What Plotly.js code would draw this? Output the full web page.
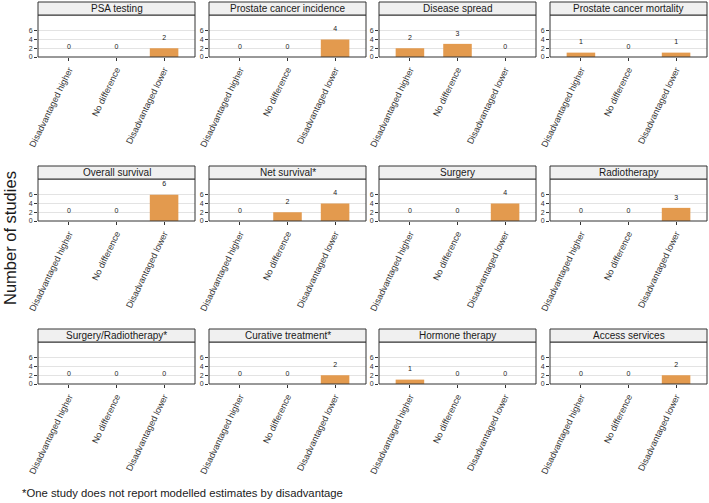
<!DOCTYPE html>
<html>
<head>
<meta charset="utf-8">
<script src="https://cdn.plot.ly/plotly-3.0.1.min.js"></script>
<style>html,body{margin:0;padding:0;background:#fff;}#chart{width:709px;height:503px;}</style>
</head>
<body>
<div id="chart"></div>
<script>
const categories = ["Disadvantaged higher", "No difference", "Disadvantaged lower"];
const panelTitles = [
  "PSA testing", "Prostate cancer incidence", "Disease spread", "Prostate cancer mortality",
  "Overall survival", "Net survival*", "Surgery", "Radiotherapy",
  "Surgery/Radiotherapy*", "Curative treatment*", "Hormone therapy", "Access services"
];
const psaTesting = [0, 0, 2];
const incidence = [0, 0, 4];
const diseaseSpread = [2, 3, 0];
const mortality = [1, 0, 1];
const overallSurvival = [0, 0, 6];
const netSurvival = [0, 2, 4];
const surgery = [0, 0, 4];
const radiotherapy = [0, 0, 3];
const surgeryRadiotherapy = [0, 0, 0];
const curativeTreatment = [0, 0, 2];
const hormoneTherapy = [1, 0, 0];
const accessServices = [0, 0, 2];
const yTicks = [0, 2, 4, 6];
const yAxisTitle = "Number of studies";
const footnote = "*One study does not report modelled estimates by disadvantage";

const series = [psaTesting, incidence, diseaseSpread, mortality, overallSurvival, netSurvival,
  surgery, radiotherapy, surgeryRadiotherapy, curativeTreatment, hormoneTherapy, accessServices];

const W = 709, H = 503;
const colLeft = [38, 209, 379, 550];
const panelW = 157;
const rowTop = [15, 179, 342];
const panelH = 42;
const stripH = 13;
const labelOffset = 2.3;

const px = x => x / W;
const py = y => 1 - y / H;

const data = [];
const layout = {
  width: W, height: H,
  margin: {l: 0, r: 0, t: 0, b: 0},
  paper_bgcolor: "#fff", plot_bgcolor: "#fff",
  showlegend: false,
  font: {family: "Liberation Sans, Arial, sans-serif", color: "#1a1a1a"},
  shapes: [], annotations: []
};

series.forEach((vals, i) => {
  const r = Math.floor(i / 4), c = i % 4;
  const n = i + 1;
  const xa = "x" + (n === 1 ? "" : n), ya = "y" + (n === 1 ? "" : n);
  const xk = "xaxis" + (n === 1 ? "" : n), yk = "yaxis" + (n === 1 ? "" : n);
  data.push({
    type: "bar", x: [0, 1, 2], y: vals, xaxis: xa, yaxis: ya,
    width: 0.6, marker: {color: "#E39A4E", line: {width: 0}},
    hoverinfo: "skip"
  });
  data.push({
    type: "scatter", mode: "text", x: [0, 1, 2], y: vals.map(v => v + labelOffset),
    text: vals.map(String), textfont: {size: 7, color: "#1a1a1a"},
    xaxis: xa, yaxis: ya, hoverinfo: "skip", cliponaxis: false
  });
  const x0 = colLeft[c], x1 = x0 + panelW;
  const y0 = rowTop[r], y1 = y0 + panelH;
  layout[xk] = {
    domain: [px(x0), px(x1)], anchor: ya, range: [-0.65, 2.65],
    tickmode: "array", tickvals: [0, 1, 2], ticktext: categories,
    tickangle: -64, tickfont: {size: 9, color: "#333"},
    ticks: "outside", ticklen: 3, tickcolor: "#333",
    showgrid: false, zeroline: false, showline: false, fixedrange: true
  };
  layout[yk] = {
    domain: [py(y1), py(y0)], anchor: xa, range: [0, 9.6],
    tickmode: "array", tickvals: yTicks, ticktext: yTicks.map(String),
    tickfont: {size: 7, color: "#333"}, ticks: "outside", ticklen: 3, tickcolor: "#333",
    showgrid: true, gridcolor: "#E3E3E3", gridwidth: 1,
    zeroline: false, showline: false, fixedrange: true
  };
  layout.shapes.push({
    type: "rect", xref: "paper", yref: "paper",
    x0: px(x0), x1: px(x1), y0: py(y1), y1: py(y0),
    line: {color: "#333", width: 1}, fillcolor: "rgba(0,0,0,0)", layer: "above"
  });
  layout.shapes.push({
    type: "rect", xref: "paper", yref: "paper",
    x0: px(x0), x1: px(x1), y0: py(y0), y1: py(y0 - stripH),
    line: {color: "#333", width: 1}, fillcolor: "#F0F0F0", layer: "above"
  });
  layout.annotations.push({
    xref: "paper", yref: "paper", x: px((x0 + x1) / 2), y: py(y0 - stripH / 2),
    text: panelTitles[i], showarrow: false, xanchor: "center", yanchor: "middle",
    font: {size: 10, color: "#1a1a1a"}
  });
});

layout.annotations.push({
  xref: "paper", yref: "paper", x: px(10), y: py(238),
  text: yAxisTitle, showarrow: false, textangle: -90,
  xanchor: "center", yanchor: "middle", font: {size: 16.5, color: "#1a1a1a"}
});
layout.annotations.push({
  xref: "paper", yref: "paper", x: px(20), y: py(493),
  text: footnote, showarrow: false, xanchor: "left", yanchor: "middle",
  font: {size: 11.3, color: "#1a1a1a"}
});

Plotly.newPlot("chart", data, layout, {displayModeBar: false, staticPlot: true});
</script>
</body>
</html>
